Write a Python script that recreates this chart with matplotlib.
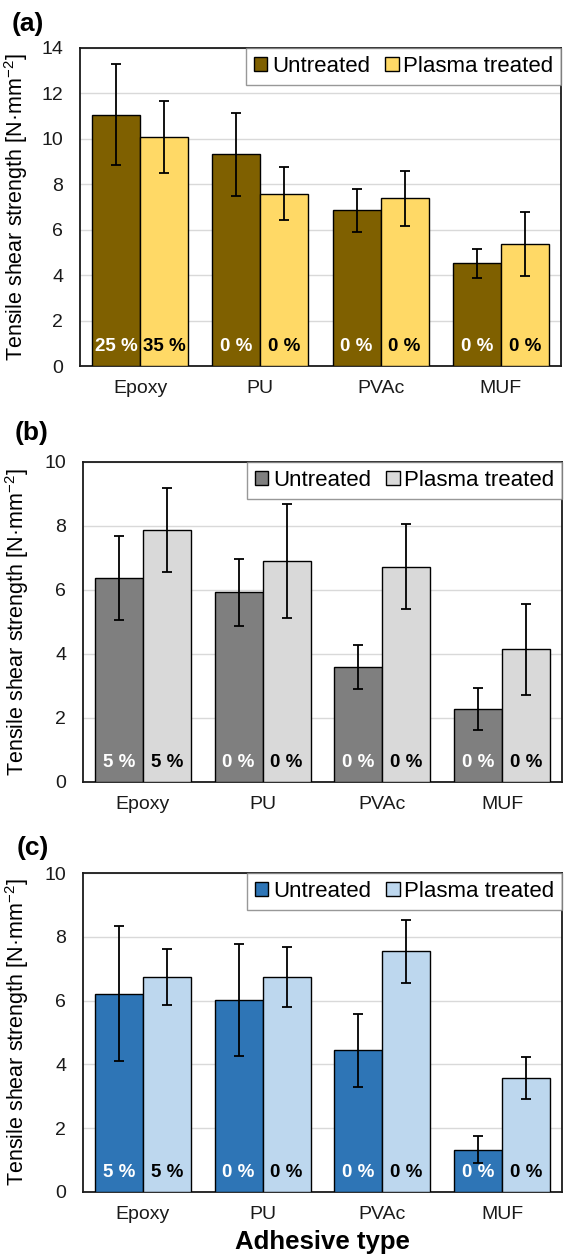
import numpy as np
import matplotlib
matplotlib.use('Agg')
from matplotlib import pyplot as plt

plt.rcParams['font.family'] = ['Liberation Sans', 'DejaVu Sans']
plt.rcParams['axes.unicode_minus'] = False

# data
adhesives = ['Epoxy', 'PU', 'PVAc', 'MUF']
series_names = ['Untreated', 'Plasma treated']

a_untreated = [11.07, 9.32, 6.85, 4.52]
a_untreated_err = [2.22, 1.83, 0.93, 0.65]
a_plasma = [10.08, 7.58, 7.39, 5.37]
a_plasma_err = [1.59, 1.17, 1.21, 1.42]
a_fail_untreated = ['25 %', '0 %', '0 %', '0 %']
a_fail_plasma = ['35 %', '0 %', '0 %', '0 %']

b_untreated = [6.37, 5.93, 3.59, 2.28]
b_untreated_err = [1.32, 1.05, 0.68, 0.65]
b_plasma = [7.88, 6.91, 6.73, 4.15]
b_plasma_err = [1.31, 1.77, 1.33, 1.42]
b_fail_untreated = ['5 %', '0 %', '0 %', '0 %']
b_fail_plasma = ['5 %', '0 %', '0 %', '0 %']

c_untreated = [6.22, 6.02, 4.44, 1.33]
c_untreated_err = [2.11, 1.76, 1.14, 0.43]
c_plasma = [6.74, 6.74, 7.54, 3.58]
c_plasma_err = [0.87, 0.93, 0.98, 0.65]
c_fail_untreated = ['5 %', '0 %', '0 %', '0 %']
c_fail_plasma = ['5 %', '0 %', '0 %', '0 %']

W, H = 564, 1260
fig = plt.figure(figsize=(W / 100, H / 100), dpi=100)


def px_axes(left, top, right, bottom):
    """axes from pixel box"""
    return fig.add_axes([left / W, 1 - bottom / H, (right - left) / W, (bottom - top) / H])


def panel(ax, untreated, untreated_err, plasma, plasma_err,
          fail_u, fail_p, colors, ymax, letter, letter_xy, label_x):
    x = np.arange(len(adhesives))
    w = 0.4
    ekw = dict(elinewidth=1.3, capthick=1.3, ecolor='black')
    ax.bar(x - w / 2, untreated, w, yerr=untreated_err, capsize=3.5,
           color=colors[0], edgecolor='black', linewidth=1.0,
           error_kw=ekw, label=series_names[0], zorder=3)
    ax.bar(x + w / 2, plasma, w, yerr=plasma_err, capsize=3.5,
           color=colors[1], edgecolor='black', linewidth=1.0,
           error_kw=ekw, label=series_names[1], zorder=3)

    for i in range(len(adhesives)):
        ax.annotate(fail_u[i], xy=(x[i] - w / 2, 0), xytext=(0, 13.7),
                    textcoords='offset points', ha='center', va='center',
                    fontsize=13.5, fontweight='bold', color='white', zorder=5)
        ax.annotate(fail_p[i], xy=(x[i] + w / 2, 0), xytext=(0, 13.7),
                    textcoords='offset points', ha='center', va='center',
                    fontsize=13.5, fontweight='bold', color='black', zorder=5)

    ax.set_xlim(-0.5, len(adhesives) - 0.5)
    ax.set_ylim(0, ymax)
    ax.set_yticks(np.arange(0, ymax + 1, 2))
    ax.set_xticks(x)
    ax.set_xticklabels(adhesives)
    ax.tick_params(axis='both', length=0, labelsize=14, colors='#1a1a1a')
    ax.tick_params(axis='x', pad=10)
    ax.tick_params(axis='y', pad=12)
    ax.yaxis.grid(True, color='#d9d9d9', linewidth=1.0, zorder=0)
    ax.set_axisbelow(True)
    for s in ax.spines.values():
        s.set_color('#1a1a1a')
        s.set_linewidth(1.3)

    ax.set_ylabel(r'Tensile shear strength [N·mm$^{\mathregular{-2}}$]', fontsize=15.5)
    ax.yaxis.set_label_coords(label_x, 0.5)

    leg = ax.legend(loc='upper right', ncol=2, fontsize=16, frameon=True,
                    fancybox=False, borderaxespad=0, borderpad=0.35,
                    handlelength=0.6, handleheight=0.6, handletextpad=0.2,
                    columnspacing=0.7)
    leg.get_frame().set_edgecolor('#7f7f7f')
    leg.get_frame().set_linewidth(1.0)
    leg.set_zorder(6)

    fig.text(letter_xy[0] / W, 1 - letter_xy[1] / H, letter, fontsize=19,
             fontweight='bold', va='center', ha='left')


ax_a = px_axes(80, 48, 561, 366)
panel(ax_a, a_untreated, a_untreated_err, a_plasma, a_plasma_err,
      a_fail_untreated, a_fail_plasma, ['#7f6000', '#ffd966'], 14, '(a)', (12, 24),
      -0.104)

ax_b = px_axes(83, 462, 562, 782)
panel(ax_b, b_untreated, b_untreated_err, b_plasma, b_plasma_err,
      b_fail_untreated, b_fail_plasma, ['#7f7f7f', '#d9d9d9'], 10, '(b)', (15, 433),
      -0.109)

ax_c = px_axes(83, 873, 562, 1192)
panel(ax_c, c_untreated, c_untreated_err, c_plasma, c_plasma_err,
      c_fail_untreated, c_fail_plasma, ['#2e75b6', '#bdd7ee'], 10, '(c)', (17, 848),
      -0.109)
ax_c.set_xlabel('Adhesive type', fontsize=18.5, fontweight='bold', labelpad=5)

fig.savefig('out.png', dpi=100)
